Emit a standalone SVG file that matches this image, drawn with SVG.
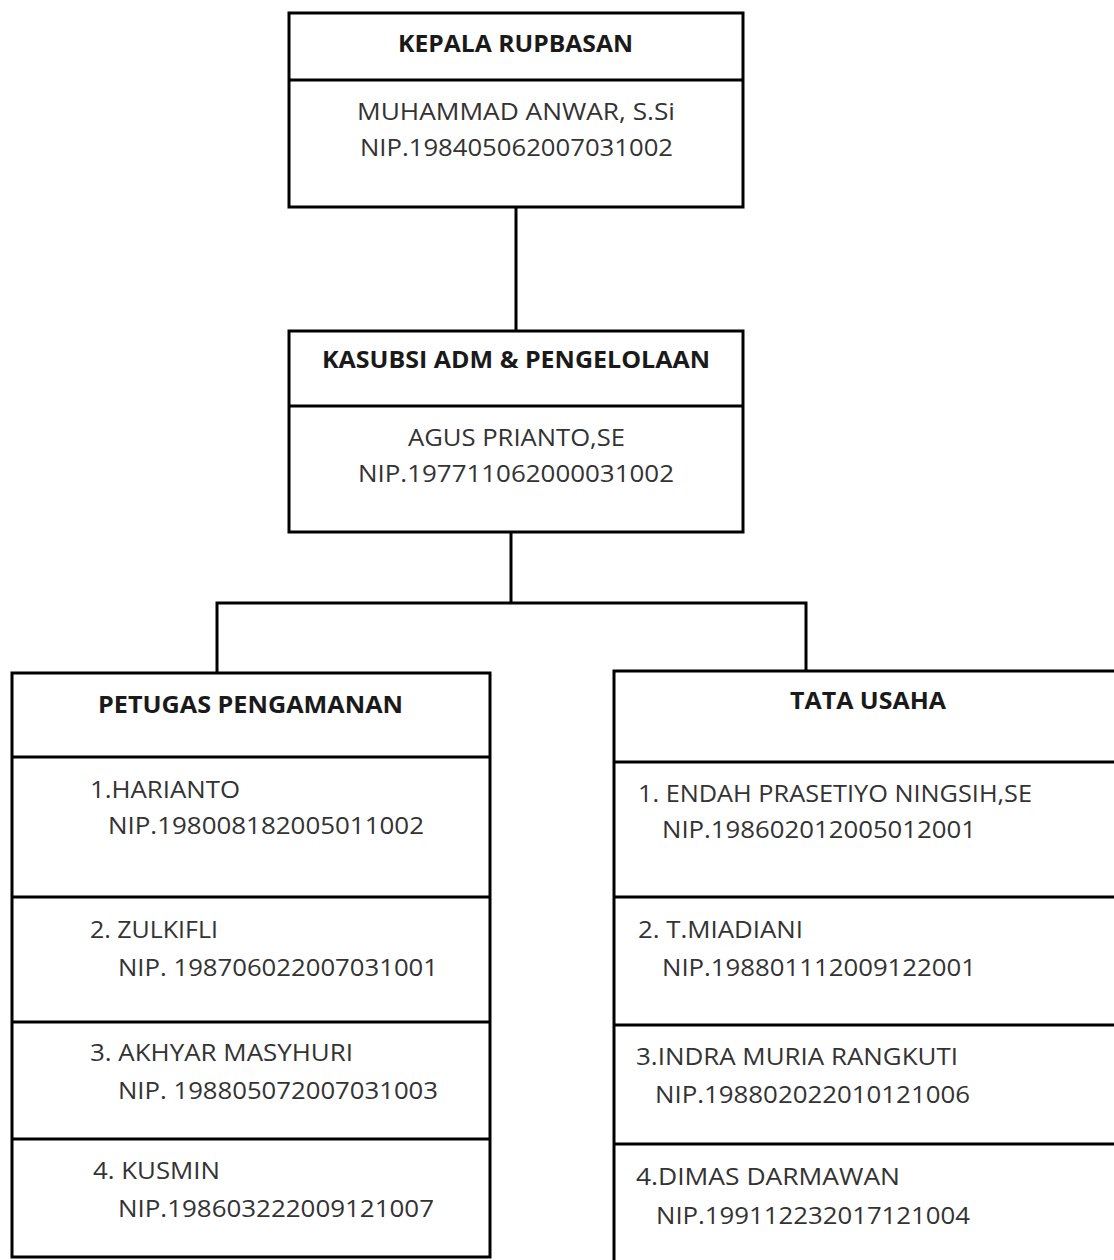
<svg xmlns="http://www.w3.org/2000/svg" width="1114" height="1260" viewBox="0 0 1114 1260">
<style>
.box{fill:#fff;stroke:#000;stroke-width:3}
.div{stroke:#000;stroke-width:3;fill:none}
.conn{stroke:#000;stroke-width:3;fill:none}
.h{font-family:"Open Sans","Liberation Sans",sans-serif;font-weight:bold;font-size:23px;fill:#1a1a1a}
.t{font-family:"Open Sans","Liberation Sans",sans-serif;font-size:24px;fill:#333}
</style>
<rect width="1114" height="1260" fill="#fff"/>
<g id="connectors">
<line class="conn" x1="516" y1="207" x2="516" y2="331"/>
<line class="conn" x1="511" y1="532" x2="511" y2="603"/>
<polyline class="conn" points="217,673 217,603 806,603 806,671"/>
</g>
<g id="kepala">
<rect class="box" x="289" y="13" width="454" height="194"/>
<line class="div" x1="289" y1="80" x2="743" y2="80"/>
<text class="h" x="398" y="52" textLength="235" lengthAdjust="spacingAndGlyphs">KEPALA RUPBASAN</text>
<text class="t" x="357" y="120" textLength="318" lengthAdjust="spacingAndGlyphs">MUHAMMAD ANWAR, S.Si</text>
<text class="t" x="360" y="156" textLength="313" lengthAdjust="spacingAndGlyphs">NIP.198405062007031002</text>
</g>
<g id="kasubsi">
<rect class="box" x="289" y="331" width="454" height="201"/>
<line class="div" x1="289" y1="406" x2="743" y2="406"/>
<text class="h" x="322" y="368" textLength="388" lengthAdjust="spacingAndGlyphs">KASUBSI ADM &amp; PENGELOLAAN</text>
<text class="t" x="408" y="446" textLength="217" lengthAdjust="spacingAndGlyphs">AGUS PRIANTO,SE</text>
<text class="t" x="358" y="482" textLength="316" lengthAdjust="spacingAndGlyphs">NIP.197711062000031002</text>
</g>
<g id="petugas">
<rect class="box" x="12" y="673" width="478" height="584"/>
<line class="div" x1="12" y1="757" x2="490" y2="757"/>
<line class="div" x1="12" y1="897" x2="490" y2="897"/>
<line class="div" x1="12" y1="1022" x2="490" y2="1022"/>
<line class="div" x1="12" y1="1139" x2="490" y2="1139"/>
<text class="h" x="98" y="713" textLength="305" lengthAdjust="spacingAndGlyphs">PETUGAS PENGAMANAN</text>
<text class="t" x="90" y="798" textLength="150" lengthAdjust="spacingAndGlyphs">1.HARIANTO</text>
<text class="t" x="108" y="834" textLength="316" lengthAdjust="spacingAndGlyphs">NIP.198008182005011002</text>
<text class="t" x="90" y="938" textLength="128" lengthAdjust="spacingAndGlyphs">2. ZULKIFLI</text>
<text class="t" x="118" y="976" textLength="320" lengthAdjust="spacingAndGlyphs">NIP. 198706022007031001</text>
<text class="t" x="90" y="1061" textLength="263" lengthAdjust="spacingAndGlyphs">3. AKHYAR MASYHURI</text>
<text class="t" x="118" y="1099" textLength="320" lengthAdjust="spacingAndGlyphs">NIP. 198805072007031003</text>
<text class="t" x="93" y="1179" textLength="127" lengthAdjust="spacingAndGlyphs">4. KUSMIN</text>
<text class="t" x="118" y="1217" textLength="316" lengthAdjust="spacingAndGlyphs">NIP.198603222009121007</text>
</g>
<g id="tata-usaha">
<rect class="box" x="614" y="671" width="520" height="620"/>
<line class="div" x1="614" y1="762" x2="1114" y2="762"/>
<line class="div" x1="614" y1="897" x2="1114" y2="897"/>
<line class="div" x1="614" y1="1025" x2="1114" y2="1025"/>
<line class="div" x1="614" y1="1144" x2="1114" y2="1144"/>
<text class="h" x="790" y="709" textLength="156" lengthAdjust="spacingAndGlyphs">TATA USAHA</text>
<text class="t" x="638" y="802" textLength="394" lengthAdjust="spacingAndGlyphs">1. ENDAH PRASETIYO NINGSIH,SE</text>
<text class="t" x="662" y="838" textLength="314" lengthAdjust="spacingAndGlyphs">NIP.198602012005012001</text>
<text class="t" x="638" y="938" textLength="165" lengthAdjust="spacingAndGlyphs">2. T.MIADIANI</text>
<text class="t" x="662" y="976" textLength="314" lengthAdjust="spacingAndGlyphs">NIP.198801112009122001</text>
<text class="t" x="636" y="1065" textLength="322" lengthAdjust="spacingAndGlyphs">3.INDRA MURIA RANGKUTI</text>
<text class="t" x="655" y="1103" textLength="315" lengthAdjust="spacingAndGlyphs">NIP.198802022010121006</text>
<text class="t" x="636" y="1185" textLength="264" lengthAdjust="spacingAndGlyphs">4.DIMAS DARMAWAN</text>
<text class="t" x="656" y="1224" textLength="314" lengthAdjust="spacingAndGlyphs">NIP.199112232017121004</text>
</g>
</svg>
